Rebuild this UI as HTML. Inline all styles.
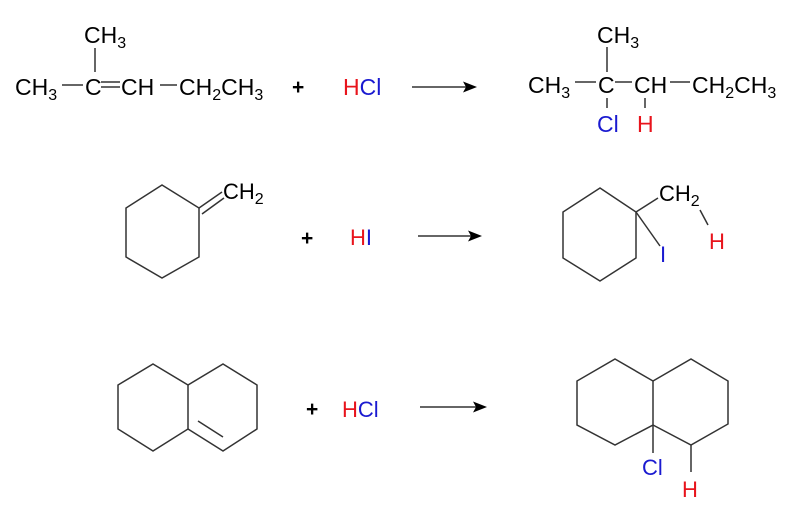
<!DOCTYPE html>
<html><head><style>
html,body{margin:0;padding:0;background:#fff;}
svg{display:block;}
text{font-family:"Liberation Sans",Arial,sans-serif;font-size:23px;fill:#000;}
.s{font-size:16px;}
.r{fill:#e8141c;}
.b{fill:#1a1ad0;}
line,polyline,polygon{stroke:#333;stroke-width:1.5;fill:none;}
.ah{fill:#000;stroke:none;}
</style></head><body>
<svg width="795" height="505" viewBox="0 0 795 505" xmlns="http://www.w3.org/2000/svg">
<!-- Row 1 reactant -->
<text x="84" y="43">CH<tspan class="s" dy="5">3</tspan></text>
<line x1="95" y1="48" x2="95" y2="72"/>
<text x="15" y="95">CH<tspan class="s" dy="5">3</tspan></text>
<line x1="62" y1="85" x2="83" y2="85"/>
<text x="85" y="95">C</text>
<line x1="101" y1="82" x2="120" y2="82"/>
<line x1="101" y1="87" x2="120" y2="87"/>
<text x="121" y="95">CH</text>
<line x1="160" y1="85" x2="177" y2="85"/>
<text x="179" y="95">CH<tspan class="s" dy="5">2</tspan><tspan dy="-5">CH</tspan><tspan class="s" dy="5">3</tspan></text>
<text x="292" y="94" style="font-size:21px;font-weight:bold">+</text>
<text x="343" y="95"><tspan class="r">H</tspan><tspan class="b">Cl</tspan></text>
<line x1="412" y1="87" x2="466" y2="87"/>
<polygon class="ah" points="477,87 463,81.5 466,87 463,92.5"/>
<!-- Row 1 product -->
<text x="597" y="43">CH<tspan class="s" dy="5">3</tspan></text>
<line x1="607" y1="47" x2="607" y2="72"/>
<text x="528" y="93">CH<tspan class="s" dy="5">3</tspan></text>
<line x1="575" y1="82" x2="596" y2="82"/>
<text x="598" y="93">C</text>
<line x1="615" y1="82" x2="632" y2="82"/>
<text x="634" y="93">CH</text>
<line x1="670" y1="82" x2="690" y2="82"/>
<text x="692" y="93">CH<tspan class="s" dy="5">2</tspan><tspan dy="-5">CH</tspan><tspan class="s" dy="5">3</tspan></text>
<line x1="607" y1="98" x2="607" y2="108"/>
<line x1="645" y1="98" x2="645" y2="108"/>
<text x="597" y="132" class="b">Cl</text>
<text x="637" y="132" class="r">H</text>
<!-- Row 2 reactant -->
<polygon points="162,185 199,208 199,257 162,278 126,257 126,208"/>
<line x1="199" y1="208" x2="222" y2="192"/>
<line x1="202" y1="214" x2="224" y2="198"/>
<text x="223" y="199" style="font-size:22px">CH<tspan class="s" dy="5">2</tspan></text>
<text x="301" y="245" style="font-size:21px;font-weight:bold">+</text>
<text x="350" y="245" style="font-size:22px"><tspan class="r">H</tspan><tspan class="b">I</tspan></text>
<line x1="418" y1="236" x2="471" y2="236"/>
<polygon class="ah" points="482,236 468,230.5 471,236 468,241.5"/>
<!-- Row 2 product -->
<polygon points="600,188 636,212 636,258 600,281 563,258 563,212"/>
<line x1="636" y1="212" x2="658" y2="198"/>
<line x1="636" y1="212" x2="660" y2="246"/>
<text x="659" y="201" style="font-size:22px">CH<tspan class="s" dy="5">2</tspan></text>
<line x1="700" y1="210" x2="708" y2="225"/>
<text x="660" y="262" class="b" style="font-size:22px">I</text>
<text x="709" y="249" class="r" style="font-size:22px">H</text>
<!-- Row 3 reactant -->
<polygon points="153,364 188,385 188,429 153,451 118,429 118,385"/>
<polyline points="188,385 223,364 257,385 257,429 223,451 188,429"/>
<line x1="198" y1="421" x2="223" y2="437"/>
<text x="306" y="416" style="font-size:21px;font-weight:bold">+</text>
<text x="342" y="417" style="font-size:22px"><tspan class="r">H</tspan><tspan class="b">Cl</tspan></text>
<line x1="420" y1="407" x2="476" y2="407"/>
<polygon class="ah" points="487,407 473,401.5 476,407 473,412.5"/>
<!-- Row 3 product -->
<polygon points="615,359 653,381 653,425 615,445 577,425 577,381"/>
<polyline points="653,381 691,359 728,381 728,424 691,445 653,425"/>
<line x1="653" y1="425" x2="653" y2="453"/>
<line x1="691" y1="445" x2="691" y2="472"/>
<text x="642" y="475" class="b" style="font-size:22px">Cl</text>
<text x="682" y="497" class="r" style="font-size:22px">H</text>
</svg>
</body></html>
